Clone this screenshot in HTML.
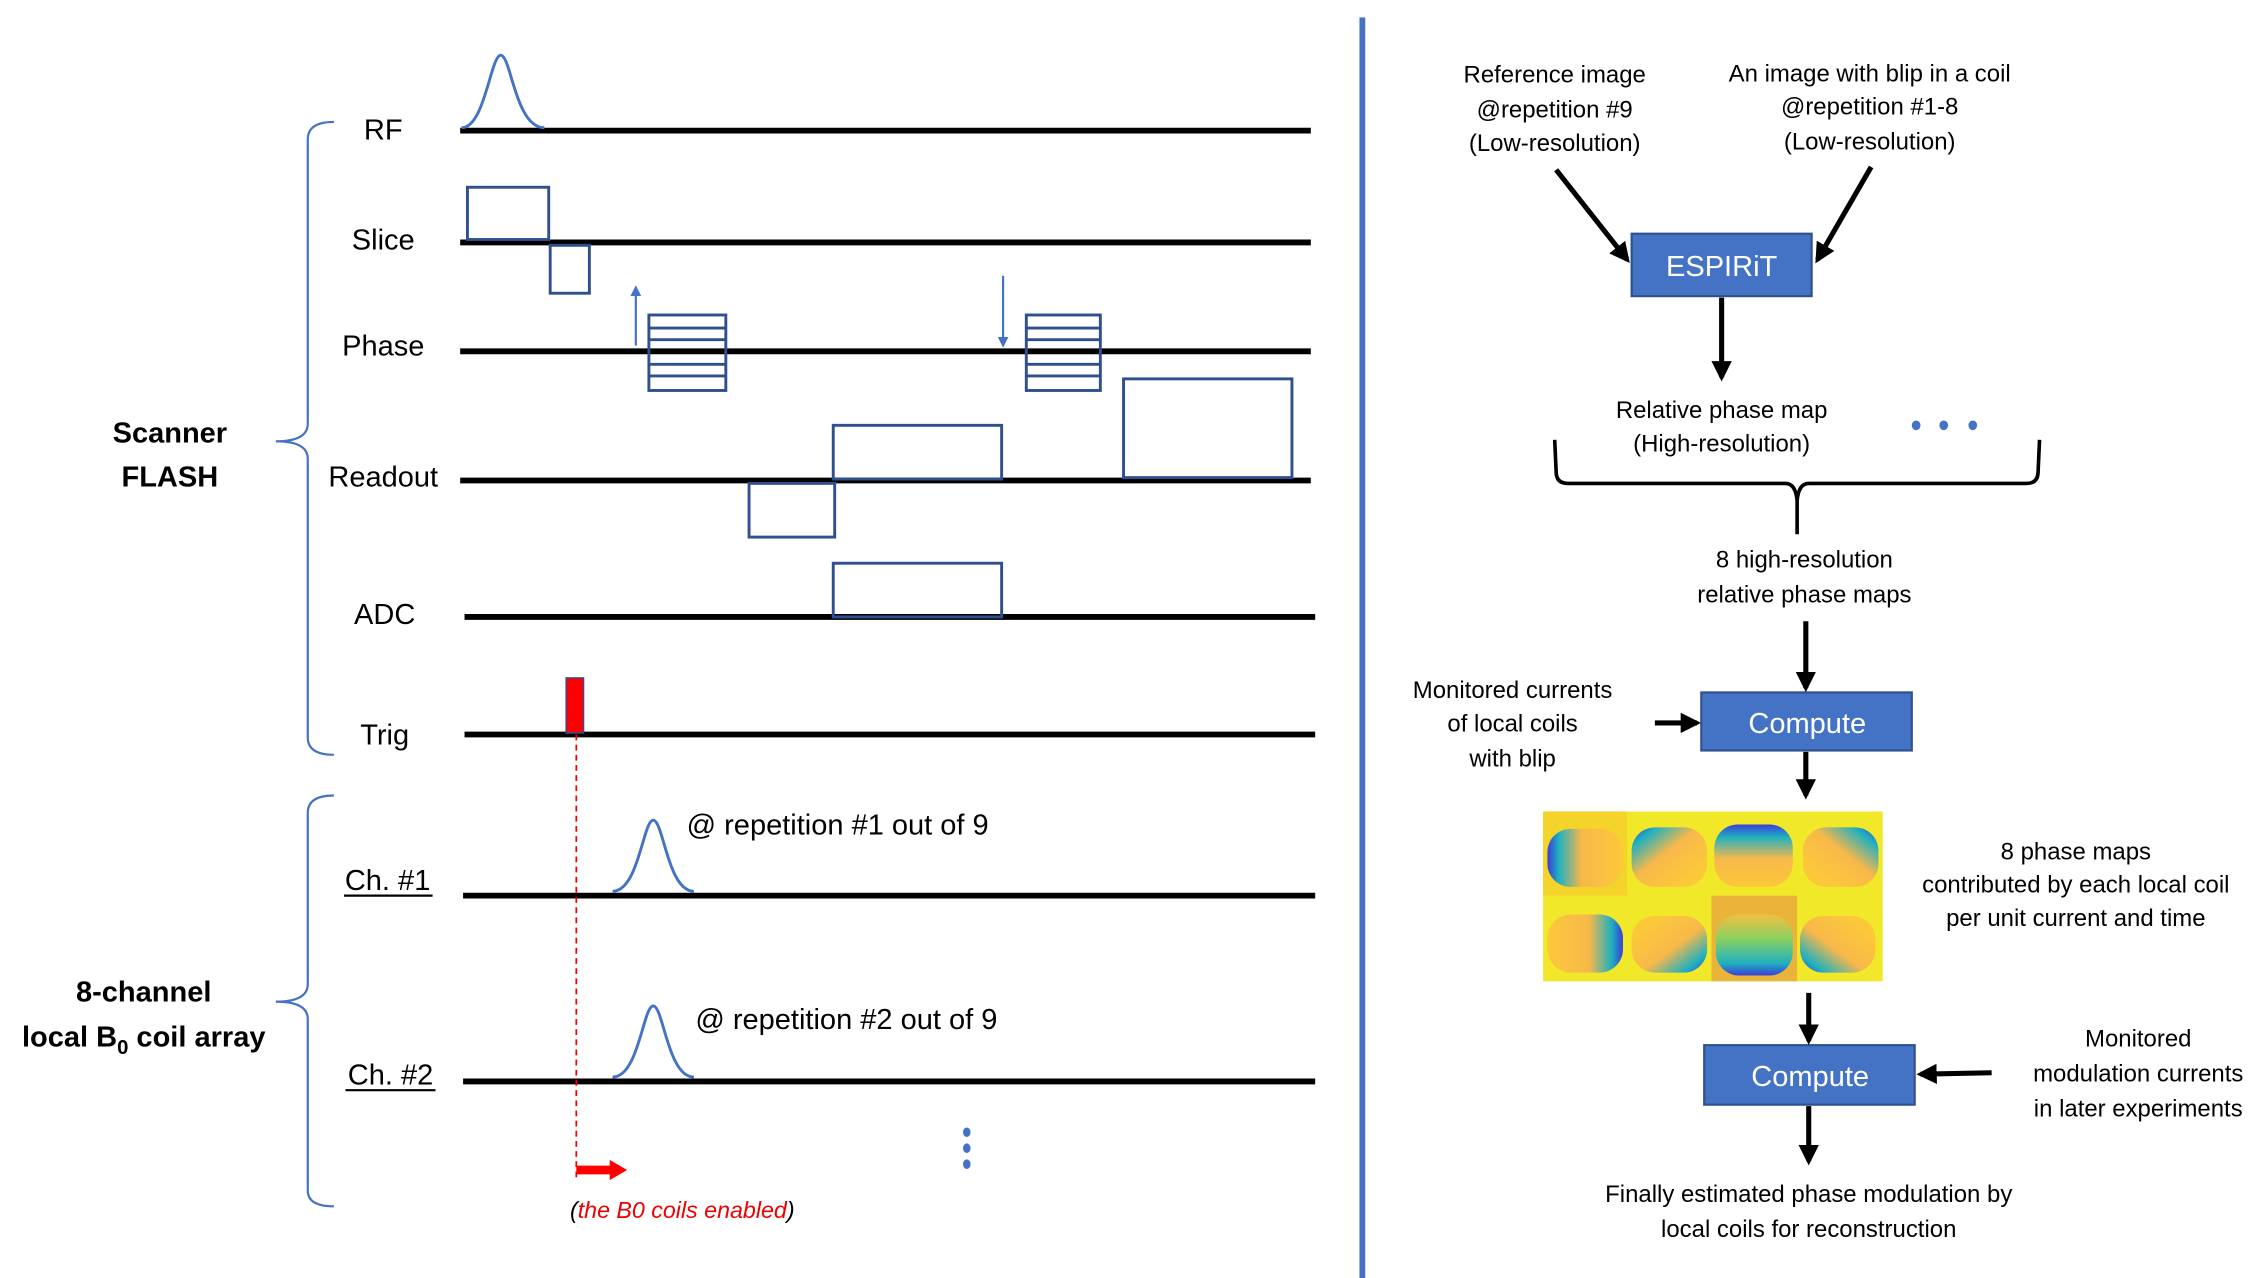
<!DOCTYPE html>
<html><head><meta charset="utf-8"><style>html,body{margin:0;padding:0;background:#fff}svg{display:block}text{font-family:"Liberation Sans",sans-serif}</style></head>
<body>
<svg width="2266" height="1278" viewBox="0 0 1561 880.4" xmlns="http://www.w3.org/2000/svg">
<defs>
<marker id="ah" viewBox="0 0 10 10" refX="8" refY="5" markerWidth="4" markerHeight="4" orient="auto-start-reverse" markerUnits="strokeWidth"><path d="M0,0 L10,5 L0,10 Z" fill="#000"/></marker>
<marker id="ab" viewBox="0 0 10 10" refX="8" refY="5" markerWidth="5" markerHeight="5" orient="auto" markerUnits="strokeWidth"><path d="M0,0 L10,5 L0,10 Z" fill="#4472c4"/></marker>
<linearGradient id="g0" x1="0" y1="0" x2="1" y2="0"><stop offset="0" stop-color="#3a3ed8"/><stop offset="0.15" stop-color="#1fb0c0"/><stop offset="0.45" stop-color="#f8b84a"/><stop offset="1" stop-color="#fbc83a"/></linearGradient>
<linearGradient id="g1" x1="0" y1="0" x2="0.8" y2="0.8"><stop offset="0" stop-color="#3a3ed8"/><stop offset="0.2" stop-color="#1fb0c0"/><stop offset="0.55" stop-color="#f8b84a"/><stop offset="1" stop-color="#fbc83a"/></linearGradient>
<linearGradient id="g2" x1="0" y1="0" x2="0" y2="1"><stop offset="0" stop-color="#3a3ed8"/><stop offset="0.2" stop-color="#1fb0c0"/><stop offset="0.55" stop-color="#f8b84a"/><stop offset="1" stop-color="#fbc83a"/></linearGradient>
<linearGradient id="g3" x1="1" y1="0" x2="0.2" y2="0.8"><stop offset="0" stop-color="#3a3ed8"/><stop offset="0.2" stop-color="#1fb0c0"/><stop offset="0.55" stop-color="#f8b84a"/><stop offset="1" stop-color="#fbc83a"/></linearGradient>
<linearGradient id="g4" x1="1" y1="0" x2="0" y2="0"><stop offset="0" stop-color="#3a3ed8"/><stop offset="0.15" stop-color="#1fb0c0"/><stop offset="0.45" stop-color="#f8b84a"/><stop offset="1" stop-color="#fbc83a"/></linearGradient>
<linearGradient id="g5" x1="1" y1="1" x2="0.2" y2="0.2"><stop offset="0" stop-color="#3a3ed8"/><stop offset="0.2" stop-color="#1fb0c0"/><stop offset="0.55" stop-color="#f8b84a"/><stop offset="1" stop-color="#fbc83a"/></linearGradient>
<linearGradient id="g6" x1="0" y1="1" x2="0" y2="0"><stop offset="0" stop-color="#3a3ed8"/><stop offset="0.2" stop-color="#1fb0c0"/><stop offset="0.6" stop-color="#8ad060"/><stop offset="1" stop-color="#f0c040"/></linearGradient>
<linearGradient id="g7" x1="0" y1="1" x2="0.8" y2="0.2"><stop offset="0" stop-color="#3a3ed8"/><stop offset="0.2" stop-color="#1fb0c0"/><stop offset="0.55" stop-color="#f8b84a"/><stop offset="1" stop-color="#fbc83a"/></linearGradient>
</defs>

<!-- divider -->
<rect x="936.5" y="12" width="4" height="872" fill="#4472c4"/>

<!-- timing lines -->
<g stroke="#000" stroke-width="4">
<line x1="317" y1="90" x2="903" y2="90"/>
<line x1="317" y1="167" x2="903" y2="167"/>
<line x1="317" y1="242" x2="903" y2="242"/>
<line x1="317" y1="331" x2="903" y2="331"/>
<line x1="320" y1="425" x2="906" y2="425"/>
<line x1="320" y1="506" x2="906" y2="506"/>
<line x1="319" y1="617" x2="906" y2="617"/>
<line x1="319" y1="745" x2="906" y2="745"/>
</g>

<!-- labels -->
<g font-size="20" text-anchor="middle" fill="#000">
<text x="264" y="96">RF</text>
<text x="264" y="172">Slice</text>
<text x="264" y="245">Phase</text>
<text x="264" y="335">Readout</text>
<text x="265" y="430">ADC</text>
<text x="265" y="513">Trig</text>
<text x="267" y="613">Ch. #1</text>
<text x="269" y="747">Ch. #2</text>
</g>
<line x1="237" y1="617" x2="298" y2="617" stroke="#000" stroke-width="1.5"/>
<line x1="238" y1="751" x2="300" y2="751" stroke="#000" stroke-width="1.5"/>

<g font-size="20" font-weight="bold" text-anchor="middle">
<text x="117" y="305">Scanner</text>
<text x="117" y="335">FLASH</text>
<text x="99" y="690">8-channel</text>
<text x="99" y="721">local B<tspan font-size="14" dy="5">0</tspan><tspan dy="-5"> coil array</tspan></text>
</g>

<!-- braces -->
<g fill="none" stroke="#4472c4" stroke-width="1.5">
<path d="M230,84 Q212,84 212,96 L212,292 Q212,304 190,304 Q212,304 212,316 L212,508 Q212,520 230,520"/>
<path d="M230,548 Q212,548 212,560 L212,678 Q212,690 190,690 Q212,690 212,702 L212,820 Q212,831 230,831"/>
</g>

<!-- RF pulse -->
<path d="M318,88 C334,88 338,38 345,38 C352,38 355,88 375,88" fill="none" stroke="#4472c4" stroke-width="2"/>
<!-- gradients -->
<g fill="none" stroke="#2f4f8f" stroke-width="2">
<rect x="322" y="129" width="56" height="36"/>
<rect x="379" y="169" width="27" height="33"/>
<rect x="447" y="217" width="53" height="52"/>
<rect x="707" y="217" width="51" height="52"/>
<rect x="516" y="333" width="59" height="37"/>
<rect x="574" y="293" width="116" height="37"/>
<rect x="774" y="261" width="116" height="68"/>
<rect x="574" y="388" width="116" height="37"/>
<path d="M447,226H500M447,234H500M447,251H500M447,259H500"/>
<path d="M707,226H758M707,234H758M707,251H758M707,259H758"/>
</g>
<line x1="438" y1="238" x2="438" y2="198" stroke="#4472c4" stroke-width="1.5" marker-end="url(#ab)"/>
<line x1="691" y1="190" x2="691" y2="238" stroke="#4472c4" stroke-width="1.5" marker-end="url(#ab)"/>

<!-- trig -->
<rect x="390" y="467" width="12" height="38" fill="#f00" stroke="#2f4f8f" stroke-width="1"/>
<line x1="397" y1="506" x2="397" y2="812" stroke="#e00" stroke-width="1.2" stroke-dasharray="4,3"/>
<path d="M397,803 L420,803 L420,799 L432,806 L420,813 L420,809 L397,809 Z" fill="#f00"/>
<text x="470" y="839" font-size="16" font-style="italic" text-anchor="middle" fill="#000">(<tspan fill="#e00">the B0 coils enabled</tspan>)</text>

<!-- channel pulses -->
<path d="M422,614 C440,614 443,565 450,565 C457,565 460,614 478,614" fill="none" stroke="#4472c4" stroke-width="2"/>
<path d="M422,742 C440,742 443,693 450,693 C457,693 460,742 478,742" fill="none" stroke="#4472c4" stroke-width="2"/>
<text x="473" y="575" font-size="20">@ repetition #1 out of 9</text>
<text x="479" y="709" font-size="20">@ repetition #2 out of 9</text>
<g fill="#4472c4"><ellipse cx="666" cy="780" rx="2.6" ry="3.3"/><ellipse cx="666" cy="791" rx="2.6" ry="3.3"/><ellipse cx="666" cy="802" rx="2.6" ry="3.3"/></g>

<!-- right side -->
<g font-size="16.5" text-anchor="middle" fill="#000">
<text x="1071" y="57">Reference image</text>
<text x="1071" y="81">@repetition #9</text>
<text x="1071" y="104">(Low-resolution)</text>
<text x="1288" y="56">An image with blip in a coil</text>
<text x="1288" y="79">@repetition #1-8</text>
<text x="1288" y="103">(Low-resolution)</text>
<text x="1186" y="288">Relative phase map</text>
<text x="1186" y="311">(High-resolution)</text>
<text x="1243" y="391">8 high-resolution</text>
<text x="1243" y="415">relative phase maps</text>
<text x="1042" y="481">Monitored currents</text>
<text x="1042" y="504">of local coils</text>
<text x="1042" y="528">with blip</text>
<text x="1430" y="592">8 phase maps</text>
<text x="1430" y="615">contributed by each local coil</text>
<text x="1430" y="638">per unit current and time</text>
<text x="1473" y="721">Monitored</text>
<text x="1473" y="745">modulation currents</text>
<text x="1473" y="769">in later experiments</text>
<text x="1246" y="828">Finally estimated phase modulation by</text>
<text x="1246" y="852">local coils for reconstruction</text>
</g>

<g fill="#4472c4" stroke="#2f528f" stroke-width="1.5">
<rect x="1124" y="161" width="124" height="43"/>
<rect x="1172" y="477" width="145" height="40"/>
<rect x="1174" y="720" width="145" height="41"/>
</g>
<g fill="#fff" font-size="20" text-anchor="middle">
<text x="1186" y="190">ESPIRiT</text>
<text x="1245" y="505">Compute</text>
<text x="1247" y="748">Compute</text>
</g>

<g stroke="#000" stroke-width="3.5" fill="none" marker-end="url(#ah)">
<line x1="1072" y1="117" x2="1121" y2="179"/>
<line x1="1289" y1="115" x2="1252" y2="179"/>
<line x1="1186" y1="205" x2="1186" y2="260"/>
<line x1="1244" y1="428" x2="1244" y2="474"/>
<line x1="1140" y1="498" x2="1169" y2="498"/>
<line x1="1244" y1="518" x2="1244" y2="548"/>
<line x1="1246" y1="684" x2="1246" y2="717"/>
<line x1="1372" y1="739" x2="1323" y2="740"/>
<line x1="1246" y1="762" x2="1246" y2="800"/>
</g>
<g fill="#4472c4"><ellipse cx="1320" cy="293" rx="3" ry="3.3"/><ellipse cx="1339" cy="293" rx="3" ry="3.3"/><ellipse cx="1359" cy="293" rx="3" ry="3.3"/></g>
<path d="M1071,303 L1072,325 Q1072,333 1080,333 L1230,333 Q1237,333 1238,345 L1238,368 M1238,368 L1238,345 Q1239,333 1246,333 L1396,333 Q1404,333 1404,325 L1405,303" fill="none" stroke="#000" stroke-width="2.5"/>

<!-- phase maps -->
<g>
<rect x="1063" y="559" width="234" height="117" fill="#f2e82a"/>
<rect x="1063" y="559" width="58" height="58" fill="#f4d32a"/>
<rect x="1179" y="617" width="59" height="59" fill="#eab43a"/>
<rect x="1066" y="571" width="52" height="40" rx="16" fill="url(#g0)"/>
<rect x="1124" y="570" width="52" height="41" rx="16" fill="url(#g1)"/>
<rect x="1181" y="568" width="54" height="43" rx="16" fill="url(#g2)"/>
<rect x="1242" y="570" width="52" height="41" rx="16" fill="url(#g3)"/>
<rect x="1066" y="630" width="52" height="40" rx="16" fill="url(#g4)"/>
<rect x="1124" y="631" width="52" height="39" rx="16" fill="url(#g5)"/>
<rect x="1182" y="630" width="53" height="42" rx="16" fill="url(#g6)"/>
<rect x="1240" y="631" width="52" height="39" rx="16" fill="url(#g7)"/>
</g>
</svg>
</body></html>
